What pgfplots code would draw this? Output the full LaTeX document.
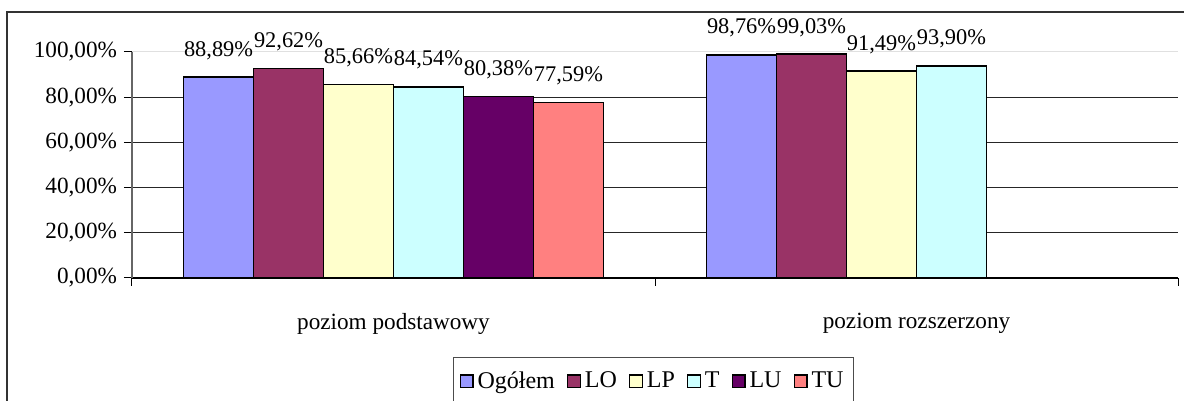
\documentclass[border=0pt]{standalone}
\usepackage{fontspec}
\setmainfont{Liberation Serif}
\usepackage{pgfplots}
\pgfplotsset{compat=1.18}
\definecolor{cOg}{HTML}{9999FF}
\definecolor{cLO}{HTML}{993366}
\definecolor{cLP}{HTML}{FFFFCC}
\definecolor{cT}{HTML}{CCFFFF}
\definecolor{cLU}{HTML}{660066}
\definecolor{cTU}{HTML}{FF8080}
\begin{document}
\begin{tikzpicture}
  \path[use as bounding box] (-66pt,-61.5pt) rectangle (526pt,139pt);
  \draw[black!80, line width=0.6pt] (-62.5pt,-80pt) -- (-62.5pt,133pt) -- (560pt,133pt);
  \begin{axis}[
    at={(0,0)}, anchor=south west,
    scale only axis, width=523pt, height=113pt,
    ybar=0pt, bar width=0.1338,
    xmin=-0.5, xmax=1.5, ymin=0, ymax=100,
    axis x line*=bottom, axis y line*=left,
    x axis line style={black, line width=0.6pt},
    y axis line style={black!60, line width=0.6pt},
    tick align=outside,
    major tick length=4pt,
    tick style={black, line width=0.5pt},
    xtick={-0.5,0.5,1.5}, xticklabels={},
    extra x ticks={0,1},
    extra x tick labels={poziom podstawowy, poziom rozszerzony},
    extra x tick style={major tick length=0pt, xticklabel style={yshift=-14pt}},
    ytick={0,20,40,60,80},
    extra y ticks={100},
    extra y tick style={grid style={black!12, line width=0.5pt}},
    ymajorgrids,
    grid style={black!85, line width=0.5pt},
    /pgf/number format/assume math mode=true,
    yticklabel={\pgfmathprintnumber[fixed,fixed zerofill,precision=2,use comma]{\tick}\%},
    tick label style={font=\fontsize{11.6}{13}\selectfont},
    point meta=y,
    nodes near coords={\pgfmathprintnumber[fixed,fixed zerofill,precision=2,use comma]{\pgfplotspointmeta}\%},
    every node near coord/.append style={font=\fontsize{11.2}{13}\selectfont, anchor=base, inner sep=0pt, yshift=10.5pt},
    legend style={at={(0.4986,-0.35)}, anchor=north, legend columns=-1,
      draw=black!70, inner ysep=5pt, font=\fontsize{12}{14}\selectfont,
      /tikz/every even column/.append style={column sep=4pt}},
    legend image code/.code={\draw[#1, line width=0.6pt] (0pt,-3.2pt) rectangle (6.4pt,3.2pt);},
  ]
    \addplot[fill=cOg, draw=black, line width=0.8pt] coordinates {(0,88.89) (1,98.76)};
    \addplot[fill=cLO, draw=black, line width=0.8pt] coordinates {(0,92.62) (1,99.03)};
    \addplot[fill=cLP, draw=black, line width=0.8pt] coordinates {(0,85.66) (1,91.49)};
    \addplot[fill=cT,  draw=black, line width=0.8pt] coordinates {(0,84.54) (1,93.90)};
    \addplot[fill=cLU, draw=black, line width=0.8pt] coordinates {(0,80.38)};
    \addplot[fill=cTU, draw=black, line width=0.8pt] coordinates {(0,77.59)};
    \legend{Ogółem, LO, LP, T, LU, TU}
  \end{axis}
\end{tikzpicture}
\end{document}
